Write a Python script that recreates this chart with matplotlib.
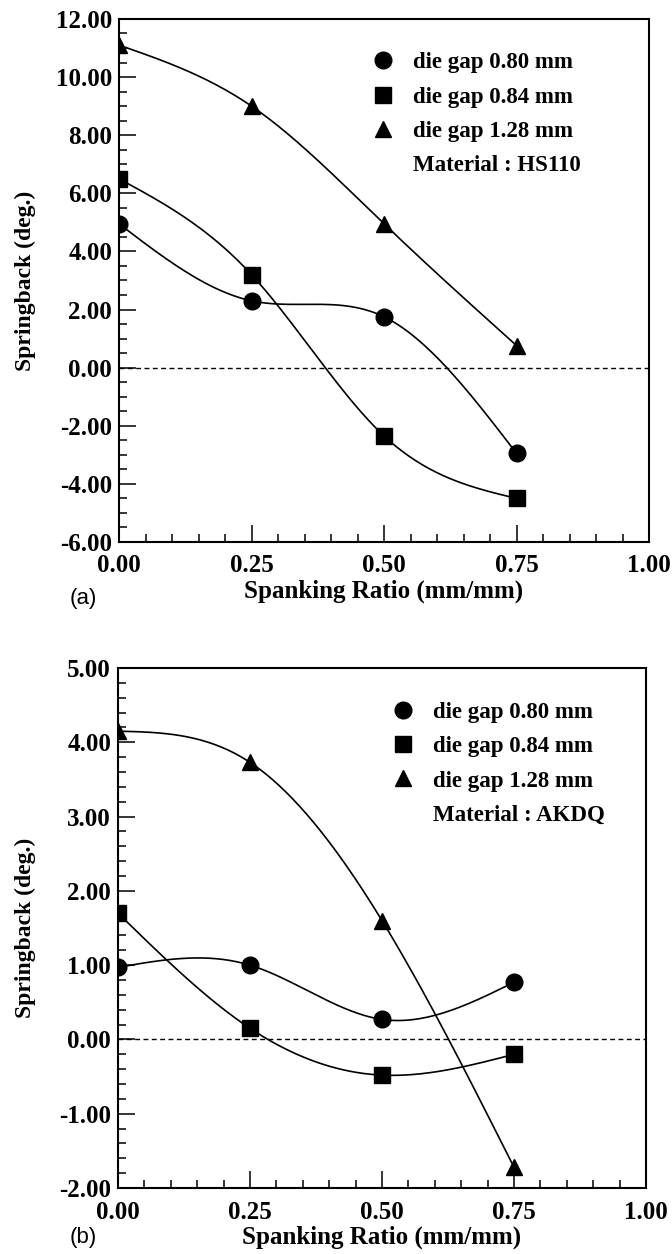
import numpy as np
import matplotlib
matplotlib.use('Agg')
import matplotlib.pyplot as plt
from matplotlib.lines import Line2D
from matplotlib.ticker import MultipleLocator, FormatStrFormatter

# spanking ratio values
ratio = [0.0, 0.25, 0.50, 0.75]

# (a) HS110
hs_gap080 = [4.95, 2.30, 1.75, -2.95]
hs_gap084 = [6.50, 3.20, -2.35, -4.50]
hs_gap128 = [11.10, 9.00, 4.95, 0.76]

# (b) AKDQ
ak_gap080 = [0.97, 1.00, 0.27, 0.77]
ak_gap084 = [1.70, 0.15, -0.48, -0.20]
ak_gap128 = [4.15, 3.73, 1.60, -1.72]

labels = ['die gap 0.80 mm', 'die gap 0.84 mm', 'die gap 1.28 mm']
markers = ['o', 's', '^']
marker_sizes = [12, 11, 12]

plt.rcParams['font.family'] = ['Liberation Serif', 'DejaVu Serif']
plt.rcParams['font.weight'] = 'bold'


def smoothCurve(x, y):
    # natural cubic spline through the measured points
    x = np.asarray(x, float)
    y = np.asarray(y, float)
    n = len(x)
    h = np.diff(x)
    A = np.zeros((n, n))
    r = np.zeros(n)
    A[0, 0] = 1
    A[-1, -1] = 1
    for i in range(1, n - 1):
        A[i, i - 1] = h[i - 1]
        A[i, i] = 2 * (h[i - 1] + h[i])
        A[i, i + 1] = h[i]
        r[i] = 6 * ((y[i + 1] - y[i]) / h[i] - (y[i] - y[i - 1]) / h[i - 1])
    M = np.linalg.solve(A, r)

    xsAll, ysAll = [], []
    for i in range(n - 1):
        xs = np.linspace(x[i], x[i + 1], 60)
        a = x[i + 1] - xs
        b = xs - x[i]
        ys = (M[i] * a**3 + M[i + 1] * b**3) / (6 * h[i]) \
            + (y[i] / h[i] - M[i] * h[i] / 6) * a \
            + (y[i + 1] / h[i] - M[i + 1] * h[i] / 6) * b
        xsAll.append(xs)
        ysAll.append(ys)
    return np.concatenate(xsAll), np.concatenate(ysAll)


def drawPanel(ax, series, ylim, ymajor, yminor, material, legendPos):
    for vals, m, ms in zip(series, markers, marker_sizes):
        xs, ys = smoothCurve(ratio, vals)
        ax.plot(xs, ys, color='black', lw=1.2)
        ax.plot(ratio, vals, linestyle='none', marker=m, ms=ms, color='black')

    ax.axhline(0, color='black', lw=1.0, ls=(0, (3.5, 2.5)))

    ax.set_xlim(0, 1)
    ax.set_ylim(*ylim)
    ax.xaxis.set_major_locator(MultipleLocator(0.25))
    ax.xaxis.set_minor_locator(MultipleLocator(0.05))
    ax.yaxis.set_major_locator(MultipleLocator(ymajor))
    ax.yaxis.set_minor_locator(MultipleLocator(yminor))
    ax.xaxis.set_major_formatter(FormatStrFormatter('%.2f'))
    ax.yaxis.set_major_formatter(FormatStrFormatter('%.2f'))

    ax.tick_params(which='both', direction='in', top=False, right=False, width=1.1, labelsize=18)
    ax.tick_params(axis='x', which='major', length=12, pad=9)
    ax.tick_params(axis='x', which='minor', length=6)
    ax.tick_params(axis='y', which='major', length=12, pad=5)
    ax.tick_params(axis='y', which='minor', length=6)
    for s in ax.spines.values():
        s.set_linewidth(1.5)

    ax.set_xlabel('Spanking Ratio (mm/mm)', fontsize=18, fontweight='bold')
    ax.set_ylabel('Springback (deg.)', fontsize=17, fontweight='bold')
    ax.xaxis.set_label_coords(0.5, -0.072)
    ax.yaxis.set_label_coords(-0.156, 0.5)

    handles = [Line2D([], [], linestyle='none', marker=m, ms=ms, color='black')
               for m, ms in zip(markers, marker_sizes)]
    handles.append(Line2D([], [], linestyle='none'))
    ax.legend(handles, labels + ['Material : ' + material], loc='upper left',
              bbox_to_anchor=legendPos, frameon=False, fontsize=16.5,
              handlelength=1.0, handletextpad=0.8, borderpad=0,
              borderaxespad=0, labelspacing=0.58)


fig = plt.figure(figsize=(6.72, 12.54), dpi=100)

axA = fig.add_axes([0.1771, 0.5678, 0.7887, 0.4171])
drawPanel(axA, [hs_gap080, hs_gap084, hs_gap128], (-6, 12), 2, 0.5, 'HS110', (0.477, 0.936))

axB = fig.add_axes([0.1756, 0.0526, 0.7857, 0.4147])
drawPanel(axB, [ak_gap080, ak_gap084, ak_gap128], (-2, 5), 1, 0.2, 'AKDQ', (0.519, 0.935))

fig.text(0.104, 0.523, '(a)', family='Liberation Sans', fontweight='normal', fontsize=16, va='center')
fig.text(0.104, 0.013, '(b)', family='Liberation Sans', fontweight='normal', fontsize=16, va='center')

fig.savefig('out.png', dpi=100)
